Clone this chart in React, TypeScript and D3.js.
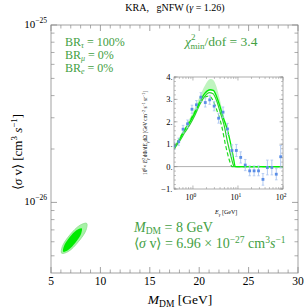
import * as d3 from "d3";

// main panel: mass vs cross section
const massTicks = [5, 10, 15, 20, 25, 30];
const massMinor = d3.range(6, 30).filter((m) => m % 5 !== 0);
const sigmaMajor = [1e-26, 1e-25];
const sigmaMinor = [5e-27, 6e-27, 7e-27, 8e-27, 9e-27, 2e-26, 3e-26, 4e-26, 5e-26, 6e-26, 7e-26, 8e-26, 9e-26];

// 2 sigma (outer) and 1 sigma (inner) contours, sigma in units of 1e-27
const outerMass = [8.61, 8.54, 7.77, 6.76, 6.08, 6.15, 6.92, 7.94];
const outerSigma = [7.62, 6.97, 6.0, 5.29, 5.17, 5.65, 6.57, 7.44];
const innerMass = [8.11, 8.06, 7.49, 6.74, 6.24, 6.3, 6.86, 7.61];
const innerSigma = [7.14, 6.68, 5.94, 5.39, 5.27, 5.64, 6.34, 6.99];

// inset: measured spectrum
const fluxEnergy = [0.385, 0.483, 0.605, 0.76, 0.953, 1.195, 1.5, 1.88, 2.36, 2.96, 3.72, 4.66, 5.85, 7.34, 9.2, 11.5, 14.5, 18.2, 22.8, 28.6, 35.9, 45.0, 56.5, 70.9, 88.9];
const fluxValue = [0.93, 1.11, 1.67, 1.91, 2.56, 2.76, 3.1, 2.86, 2.98, 2.7, 2.16, 2.43, 1.68, 0.72, 0.72, 0.41, 0.07, -0.19, -0.19, -0.19, -0.57, -0.04, -0.04, -0.34, 0.44];
const fluxError = [0.16, 0.16, 0.17, 0.17, 0.18, 0.19, 0.2, 0.2, 0.2, 0.21, 0.22, 0.23, 0.25, 0.25, 0.27, 0.25, 0.25, 0.22, 0.22, 0.22, 0.26, 0.33, 0.33, 0.25, 0.5];

// inset: model curves
const solidAEnergy = [0.38, 0.5, 0.66, 0.86, 1.1, 1.43, 1.85, 2.4, 2.85, 3.35, 4.0, 4.7, 5.7, 7.0, 8.0, 8.7, 100];
const solidAValue = [0.82, 1.2, 1.64, 2.0, 2.4, 2.9, 3.28, 3.43, 3.4, 3.13, 2.68, 2.2, 1.7, 0.96, 0.35, 0, 0];
const solidBEnergy = [0.38, 0.5, 0.66, 0.86, 1.1, 1.43, 1.85, 2.3, 2.8, 3.35, 4.0, 4.9, 6.0, 7.0, 7.9, 8.2, 100];
const solidBValue = [0.78, 1.12, 1.52, 1.88, 2.28, 2.78, 3.15, 3.3, 3.25, 2.95, 2.45, 1.86, 1.0, 0.45, 0.07, 0, 0];
const dashedEnergy = [0.38, 0.5, 0.66, 0.86, 1.1, 1.43, 1.85, 2.3, 2.8, 3.35, 4.3, 5.3, 6.3, 7.0, 7.3, 100];
const dashedValue = [0.86, 1.25, 1.65, 2.05, 2.45, 2.85, 3.1, 3.15, 2.95, 2.55, 1.86, 0.96, 0.35, 0.07, 0, 0];
const bandEnergy = [0.38, 0.66, 1.1, 1.43, 1.85, 2.2, 2.5, 2.85, 3.35, 4.0, 4.7, 5.7, 7.0, 8.7];
const bandUpper = [0.9, 1.75, 2.6, 3.15, 3.62, 3.85, 3.91, 3.85, 3.55, 2.95, 2.35, 1.8, 1.0, 0];
const bandLower = [0.8, 1.6, 2.35, 2.85, 3.2, 3.35, 3.4, 3.35, 3.05, 2.6, 2.1, 1.6, 0.9, 0];

const yTickInset = [-1, 0, 1, 2, 3, 4];
const xTickInset = [1, 10, 100];
const xMinorInset = [0.4, 0.5, 0.6, 0.7, 0.8, 0.9, 2, 3, 4, 5, 6, 7, 8, 9, 20, 30, 40, 50, 60, 70, 80, 90];

const serif = "'Liberation Serif', 'Times New Roman', serif";
const green = "#43a043";
const frameColor = "#8a8a8a";

export default function App() {
  const width = 305;
  const height = 308;
  const left = 51, right = 298, top = 25, bottom = 273;
  const x = d3.scaleLinear().domain([5, 30]).range([left, right]);
  const y = d3.scaleLog().domain([4e-27, 1e-25]).range([bottom, top]);

  const iL = 174, iR = 283, iT = 77, iB = 189;
  const ex = d3.scaleLog().domain([0.38, 100]).range([iL, iR]);
  const ey = d3.scaleLinear().domain([-1, 4]).range([iB, iT]);

  const contour = d3
    .line<[number, number]>()
    .x((d) => x(d[0]))
    .y((d) => y(d[1] * 1e-27))
    .curve(d3.curveCatmullRomClosed);
  const outerPath = contour(outerMass.map((m, i) => [m, outerSigma[i]]));
  const innerPath = contour(innerMass.map((m, i) => [m, innerSigma[i]]));

  const spec = d3
    .line<[number, number]>()
    .x((d) => ex(d[0]))
    .y((d) => ey(d[1]))
    .curve(d3.curveMonotoneX);
  const zip = (a: number[], b: number[]) => a.map((v, i) => [v, b[i]] as [number, number]);
  const band = d3
    .area<number>()
    .x((_, i) => ex(bandEnergy[i]))
    .y0((_, i) => ey(bandLower[i]))
    .y1((_, i) => ey(bandUpper[i]))
    .curve(d3.curveMonotoneX);

  return (
    <svg
      width={width}
      height={height}
      style={{ position: "absolute", left: 0, top: 0, background: "#fff" }}
      fontFamily={serif}
    >
      {/* title */}
      <text x={175} y={11} fontSize={10} textAnchor="middle">
        KRA,{"\u00a0\u00a0\u00a0"}gNFW (<tspan fontStyle="italic">γ</tspan> = 1.26)
      </text>

      {/* contours */}
      <path d={outerPath ?? ""} fill="#a6f2a6" stroke="#8ee08e" strokeWidth={0.8} />
      <path d={innerPath ?? ""} fill="#00ea00" />

      {/* main frame */}
      <rect x={left} y={top} width={right - left} height={bottom - top} fill="none" stroke={frameColor} strokeWidth={0.8} />
      {massTicks.map((m) => (
        <g key={`mx${m}`}>
          <line x1={x(m)} x2={x(m)} y1={bottom} y2={bottom - 6} stroke={frameColor} strokeWidth={0.8} />
          <line x1={x(m)} x2={x(m)} y1={top} y2={top + 6} stroke={frameColor} strokeWidth={0.8} />
          <text x={x(m)} y={285} fontSize={11.5} textAnchor="middle">{m}</text>
        </g>
      ))}
      {massMinor.map((m) => (
        <g key={`mn${m}`}>
          <line x1={x(m)} x2={x(m)} y1={bottom} y2={bottom - 3.5} stroke={frameColor} strokeWidth={0.7} />
          <line x1={x(m)} x2={x(m)} y1={top} y2={top + 3.5} stroke={frameColor} strokeWidth={0.7} />
        </g>
      ))}
      {sigmaMajor.map((s) => (
        <g key={`sy${s}`}>
          <line x1={left} x2={left + 6} y1={y(s)} y2={y(s)} stroke={frameColor} strokeWidth={0.8} />
          <line x1={right} x2={right - 6} y1={y(s)} y2={y(s)} stroke={frameColor} strokeWidth={0.8} />
          <text x={47} y={y(s) + 3} fontSize={11} textAnchor="end">
            10<tspan fontSize={7.5} dy={-5}>{`\u2212${Math.round(-Math.log10(s))}`}</tspan>
          </text>
        </g>
      ))}
      {sigmaMinor.map((s) => (
        <g key={`sm${s}`}>
          <line x1={left} x2={left + 3.5} y1={y(s)} y2={y(s)} stroke={frameColor} strokeWidth={0.7} />
          <line x1={right} x2={right - 3.5} y1={y(s)} y2={y(s)} stroke={frameColor} strokeWidth={0.7} />
        </g>
      ))}

      {/* axis labels */}
      <text x={180} y={304} fontSize={13.5} textAnchor="middle">
        <tspan fontStyle="italic">M</tspan>
        <tspan fontSize={9.5} dy={3}>DM</tspan>
        <tspan dy={-3}> [GeV]</tspan>
      </text>
      <text transform="translate(22,152) rotate(-90)" fontSize={13} textAnchor="middle">
        ⟨<tspan fontStyle="italic">σ</tspan> v⟩ [cm<tspan fontSize={9} dy={-5}>3</tspan>
        <tspan dy={5}> </tspan>
        <tspan fontStyle="italic">s</tspan>
        <tspan fontSize={9} dy={-5}>−1</tspan>
        <tspan dy={5}>]</tspan>
      </text>

      {/* green annotations */}
      <g fill={green} fontSize={12}>
        <text x={65} y={46}>
          BR<tspan fontSize={8} dy={2} fontStyle="italic">τ</tspan>
          <tspan dy={-2}> = 100%</tspan>
        </text>
        <text x={65} y={59}>
          BR<tspan fontSize={8} dy={2} fontStyle="italic">μ</tspan>
          <tspan dy={-2}> = 0%</tspan>
        </text>
        <text x={65} y={72}>
          BR<tspan fontSize={8} dy={2} fontStyle="italic">e</tspan>
          <tspan dy={-2}> = 0%</tspan>
        </text>
        <text x={185} y={46} fontSize={13.5}>
          <tspan fontStyle="italic">χ</tspan>
          <tspan fontSize={9} dy={-6}>2</tspan>
          <tspan fontSize={9} dx={-5} dy={9}>min</tspan>
          <tspan dy={-3}>/dof = 3.4</tspan>
        </text>
      </g>
      <g fill={green} fontSize={14}>
        <text x={134} y={232}>
          <tspan fontStyle="italic">M</tspan>
          <tspan fontSize={9.5} dy={2}>DM</tspan>
          <tspan dy={-2}> = 8 GeV</tspan>
        </text>
        <text x={134} y={248}>
          ⟨<tspan fontStyle="italic">σ</tspan> v⟩ = 6.96 × 10
          <tspan fontSize={9.5} dy={-5}>−27</tspan>
          <tspan dy={5}> cm</tspan>
          <tspan fontSize={9.5} dy={-5}>3</tspan>
          <tspan dy={5} fontStyle="italic">s</tspan>
          <tspan fontSize={9.5} dy={-5}>−1</tspan>
        </text>
      </g>

      {/* inset */}
      <defs>
        <clipPath id="inset-clip">
          <rect x={iL} y={iT} width={iR - iL} height={iB - iT} />
        </clipPath>
      </defs>
      <rect x={iL} y={iT} width={iR - iL} height={iB - iT} fill="#fff" />
      <g clipPath="url(#inset-clip)">
        <line x1={iL} x2={iR} y1={ey(0)} y2={ey(0)} stroke="#9a9a9a" strokeWidth={0.8} />
        <path d={band(bandEnergy) ?? ""} fill="#b4f2b4" opacity={0.85} />
        <path d={spec(zip(dashedEnergy, dashedValue)) ?? ""} fill="none" stroke="#22dd22" strokeWidth={1.2} strokeDasharray="4,2.5" />
        <path d={spec(zip(solidBEnergy, solidBValue)) ?? ""} fill="none" stroke="#2ed12e" strokeWidth={1.2} />
        <path d={spec(zip(solidAEnergy, solidAValue)) ?? ""} fill="none" stroke="#00f000" strokeWidth={1.3} />
        {fluxEnergy.map((e, i) => (
          <g key={`f${i}`}>
            <line x1={ex(e)} x2={ex(e)} y1={ey(fluxValue[i] - fluxError[i])} y2={ey(fluxValue[i] + fluxError[i])} stroke="#a9c4f0" strokeWidth={0.9} />
            <line x1={ex(e) - 1.3} x2={ex(e) + 1.3} y1={ey(fluxValue[i] - fluxError[i])} y2={ey(fluxValue[i] - fluxError[i])} stroke="#a9c4f0" strokeWidth={0.8} />
            <line x1={ex(e) - 1.3} x2={ex(e) + 1.3} y1={ey(fluxValue[i] + fluxError[i])} y2={ey(fluxValue[i] + fluxError[i])} stroke="#a9c4f0" strokeWidth={0.8} />
            <rect x={ex(e) - 1.4} y={ey(fluxValue[i]) - 1.4} width={2.8} height={2.8} fill="#5b8ee6" />
          </g>
        ))}
      </g>
      <rect x={iL} y={iT} width={iR - iL} height={iB - iT} fill="none" stroke={frameColor} strokeWidth={0.7} />
      {yTickInset.map((v) => (
        <g key={`iy${v}`}>
          <line x1={iL} x2={iL + 3.5} y1={ey(v)} y2={ey(v)} stroke={frameColor} strokeWidth={0.6} />
          <line x1={iR} x2={iR - 3.5} y1={ey(v)} y2={ey(v)} stroke={frameColor} strokeWidth={0.6} />
          <text x={iL - 1.5} y={ey(v) + 3} fontSize={8.5} textAnchor="end">
            {v < 0 ? `\u2212${-v}.` : `${v}.`}
          </text>
        </g>
      ))}
      {d3.range(-1, 4.01, 0.2).map((v) => (
        <g key={`iym${v.toFixed(1)}`}>
          <line x1={iL} x2={iL + 2} y1={ey(v)} y2={ey(v)} stroke={frameColor} strokeWidth={0.5} />
          <line x1={iR} x2={iR - 2} y1={ey(v)} y2={ey(v)} stroke={frameColor} strokeWidth={0.5} />
        </g>
      ))}
      {xTickInset.map((e, i) => (
        <g key={`ix${e}`}>
          <line x1={ex(e)} x2={ex(e)} y1={iB} y2={iB - 3.5} stroke={frameColor} strokeWidth={0.6} />
          <line x1={ex(e)} x2={ex(e)} y1={iT} y2={iT + 3.5} stroke={frameColor} strokeWidth={0.6} />
          <text x={ex(e) - 2} y={200} fontSize={8} textAnchor="middle">
            10<tspan fontSize={5.5} dy={-3.5}>{i}</tspan>
          </text>
        </g>
      ))}
      {xMinorInset.map((e) => (
        <g key={`ixm${e}`}>
          <line x1={ex(e)} x2={ex(e)} y1={iB} y2={iB - 2} stroke={frameColor} strokeWidth={0.5} />
          <line x1={ex(e)} x2={ex(e)} y1={iT} y2={iT + 2} stroke={frameColor} strokeWidth={0.5} />
        </g>
      ))}
      <text x={215} y={214} fontSize={6}>
        <tspan fontStyle="italic">E</tspan>
        <tspan fontSize={4.5} dy={1.5} fontStyle="italic">γ</tspan>
        <tspan dy={-1.5}> [GeV]</tspan>
      </text>
      <text transform={`translate(147,${(iT + iB) / 2}) rotate(-90)`} fontSize={5.3} textAnchor="middle">
        10<tspan fontSize={4} dy={-2}>6</tspan>
        <tspan dy={2}>× </tspan>
        <tspan fontStyle="italic">E</tspan>
        <tspan fontSize={4} dy={-2}>2</tspan>
        <tspan fontSize={4} dx={-2} dy={3.5} fontStyle="italic">γ</tspan>
        <tspan dy={-1.5}> dΦ/dE</tspan>
        <tspan fontSize={4} dy={1.5}>γ</tspan>
        <tspan dy={-1.5}>dΩ [GeV cm</tspan>
        <tspan fontSize={4} dy={-2}>−2</tspan>
        <tspan dy={2}> s</tspan>
        <tspan fontSize={4} dy={-2}>−1</tspan>
        <tspan dy={2}> sr</tspan>
        <tspan fontSize={4} dy={-2}>−1</tspan>
        <tspan dy={2}>]</tspan>
      </text>
    </svg>
  );
}
